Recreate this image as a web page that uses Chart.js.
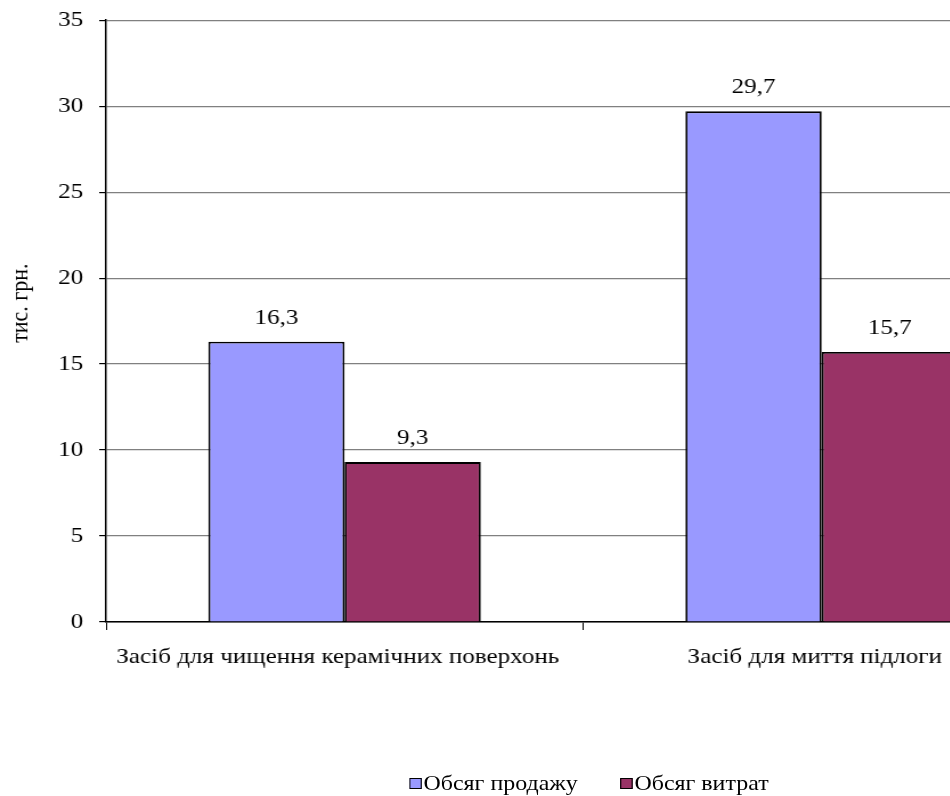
<!DOCTYPE html>
<html>
<head>
<meta charset="utf-8">
<script src="https://cdn.jsdelivr.net/npm/chart.js@4"></script>
<style>
  html, body { margin: 0; padding: 0; background: #fff; }
  body { width: 950px; height: 796px; overflow: hidden; position: relative; }
  /* the whole figure is drawn with a slightly wide aspect */
  #wrap { position: absolute; left: 0; top: 0; width: 940px; height: 796px;
          transform: scaleX(1.14); transform-origin: 0 0; }
  #c { position: absolute; left: 0; top: -7px; }
  .legend { position: absolute; top: 771px; font-family: "Liberation Serif", "Times New Roman", serif;
            font-size: 21px; color: #000; white-space: nowrap; line-height: 24px; }
  .legend span.box { display: inline-block; width: 8.5px; height: 9px; border: 1.5px solid #000;
                     vertical-align: 1px; margin-right: 2px; }
</style>
</head>
<body>
<div id="wrap">
  <canvas id="c" width="940" height="796"></canvas>
  <div class="legend" style="left:359px"><span class="box" style="background:#9999FF"></span>Обсяг продажу</div>
  <div class="legend" style="left:544px"><span class="box" style="background:#993366"></span>Обсяг витрат</div>
</div>
<script>
const categories = ['Засіб для чищення керамічних поверхонь', 'Засіб для миття підлоги'];
const seriesNames = ['Обсяг продажу', 'Обсяг витрат'];
const sales = [16.3, 29.7];
const costs = [9.3, 15.7];
const yTicks = [0, 5, 10, 15, 20, 25, 30, 35];
const yTitle = 'тис. грн.';

const FONT = '"Liberation Serif", "Times New Roman", serif';

// Value labels above each bar, comma as decimal separator
const valueLabels = {
  id: 'valueLabels',
  afterDatasetsDraw(chart) {
    const ctx = chart.ctx;
    ctx.save();
    ctx.font = '22px ' + FONT;
    ctx.fillStyle = '#000';
    ctx.textAlign = 'center';
    ctx.textBaseline = 'middle';
    chart.data.datasets.forEach((ds, i) => {
      chart.getDatasetMeta(i).data.forEach((bar, j) => {
        const txt = ds.data[j].toFixed(1).replace('.', ',');
        ctx.fillText(txt, bar.x, bar.y - 24);
      });
    });
    ctx.restore();
  }
};

// Rotated value-axis caption, sitting a little above the middle of the plot
const axisCaption = {
  id: 'axisCaption',
  afterDraw(chart) {
    const { ctx, chartArea } = chart;
    ctx.save();
    ctx.font = '22px ' + FONT;
    ctx.fillStyle = '#000';
    ctx.textAlign = 'center';
    ctx.textBaseline = 'middle';
    ctx.translate(18.5, (chartArea.top + chartArea.bottom) / 2 - 18);
    ctx.rotate(-Math.PI / 2);
    ctx.fillText(yTitle, 0, 0);
    ctx.restore();
  }
};

new Chart(document.getElementById('c'), {
  type: 'bar',
  data: {
    labels: categories,
    datasets: [
      { label: seriesNames[0], data: sales, backgroundColor: '#9999FF', borderColor: '#000', borderWidth: 1.8 },
      { label: seriesNames[1], data: costs, backgroundColor: '#993366', borderColor: '#000', borderWidth: 1.8 }
    ]
  },
  options: {
    responsive: false,
    animation: false,
    layout: { padding: { top: 11, right: 10, bottom: 107, left: 0 } },
    datasets: { bar: { categoryPercentage: 0.571, barPercentage: 1.0 } },
    plugins: { legend: { display: false }, tooltip: { enabled: false } },
    scales: {
      x: {
        offset: true,
        grid: { offset: true, drawOnChartArea: false, drawTicks: true, tickLength: 8, color: '#000', lineWidth: 1 },
        border: { color: '#000', width: 1.5 },
        ticks: { color: '#000', font: { family: FONT, size: 22 }, padding: 14, labelOffset: -6, maxRotation: 0, autoSkip: false },
        afterFit(s) { s.height = 60; }
      },
      y: {
        min: 0, max: 35,
        afterBuildTicks(s) { s.ticks = yTicks.map(v => ({ value: v })); },
        grid: { color: '#808080', lineWidth: 1.2, drawTicks: true, tickLength: 6, tickColor: '#000' },
        border: { color: '#000', width: 1.5 },
        ticks: { color: '#000', font: { family: FONT, size: 22 }, padding: 14 },
        afterFit(s) { s.width = 93; }
      }
    }
  },
  plugins: [valueLabels, axisCaption]
});
</script>
</body>
</html>
